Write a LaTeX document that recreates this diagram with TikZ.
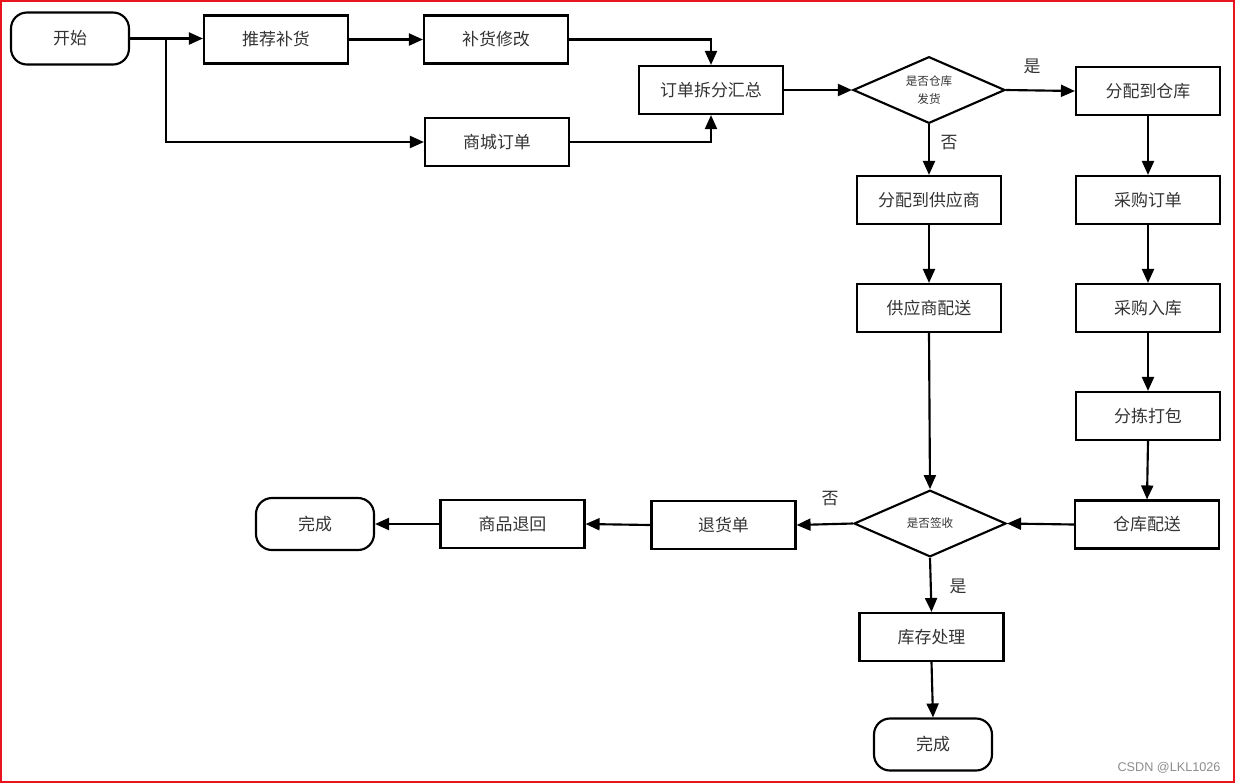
\documentclass[tikz,border=0pt]{standalone}
\usepackage{fontspec}
\setmainfont{Noto Sans CJK SC}
\newfontfamily\wmfont{Liberation Sans}
\usetikzlibrary{shapes.geometric,arrows.meta}
\definecolor{txt}{HTML}{333333}
\definecolor{frame}{HTML}{E8141E}
\tikzset{
  box/.style={draw=black, line width=1.6pt, minimum width=108pt, minimum height=36pt, inner sep=0pt, font=\fontsize{12.7}{14}\selectfont, text=txt},
  term/.style={draw=black, line width=1.6pt, rounded corners=12pt, minimum width=88.5pt, minimum height=39pt, inner sep=0pt, font=\fontsize{12.7}{14}\selectfont, text=txt},
  decide/.style={draw=black, line width=1.6pt, diamond, aspect=2.28, minimum width=114pt, minimum height=50pt, inner sep=0pt, font=\fontsize{8.7}{13}\selectfont, text=txt, align=center},
  arr/.style={line width=1.6pt, -{Triangle[length=10.5pt,width=9pt]}},
  plain/.style={line width=1.6pt},
  lbl/.style={font=\fontsize{12.7}{14}\selectfont, text=txt}
}
\begin{document}
\begin{tikzpicture}[x=0.75pt,y=-0.75pt]
\useasboundingbox (0,0) rectangle (1235,783);
\draw[frame, line width=1.5pt] (1,1) rectangle (1234,782);
% nodes
\node[term] (start) at (70,38.5) {开始};
\node[box] (rec) at (276,39.5) {推荐补货};
\node[box] (mod) at (496,39.5) {补货修改};
\node[box] (mall) at (497,142) {商城订单};
\node[box] (split) at (711,90) {订单拆分汇总};
\node[decide] (d1) at (929,90) {是否仓库\\发货};
\node[box] (wh) at (1148,91) {分配到仓库};
\node[box] (sup) at (929,200) {分配到供应商};
\node[box] (po) at (1148,200) {采购订单};
\node[box] (sdel) at (929,308) {供应商配送};
\node[box] (pin) at (1148,308) {采购入库};
\node[box] (pack) at (1148,416) {分拣打包};
\node[box] (wdel) at (1147,524.5) {仓库配送};
\node[decide] (d2) at (930,523.5) {是否签收};
\node[box] (ret) at (723.5,525) {退货单};
\node[box] (back) at (512.5,524) {商品退回};
\node[term] (end1) at (315,524) {完成};
\node[box] (stock) at (931.5,637) {库存处理};
\node[term] (end2) at (933,744.5) {完成};
% connectors
\coordinate (br) at (166,38.5);
\draw[plain] (start.east) -- (br);
\draw[arr] (br) -- (rec.west |- br);
\draw[arr] (br) |- (mall.west);
\draw[arr] (rec.east) -- (mod.west);
\draw[arr] (mod.east) -| (split.north);
\draw[arr] (mall.east) -| (split.south);
\draw[arr] (split.east) -- (d1.west);
\draw[arr] (d1.east) -- (wh.west);
\draw[arr] (d1.south) -- (sup.north);
\draw[arr] (sup.south) -- (sdel.north);
\draw[arr] (sdel.south) -- (d2.north);
\draw[arr] (wh.south) -- (po.north);
\draw[arr] (po.south) -- (pin.north);
\draw[arr] (pin.south) -- (pack.north);
\draw[arr] (pack.south) -- (wdel.north);
\draw[arr] (wdel.west) -- (d2.east);
\draw[arr] (d2.west) -- (ret.east);
\draw[arr] (ret.west) -- (back.east);
\draw[arr] (back.west) -- (end1.east);
\draw[arr] (d2.south) -- (stock.north);
\draw[arr] (stock.south) -- (end2.north);
% labels
\node[lbl] (l1) at (1032,66) {是};
\node[lbl] (l2) at (949,143) {否};
\node[lbl] (l3) at (830,499) {否};
\node[lbl] (l4) at (958,586) {是};
\node[font=\wmfont\fontsize{9.5}{11}\selectfont, text=black!45] (wm) at (1169,768) {CSDN @LKL1026};
\end{tikzpicture}
\end{document}
